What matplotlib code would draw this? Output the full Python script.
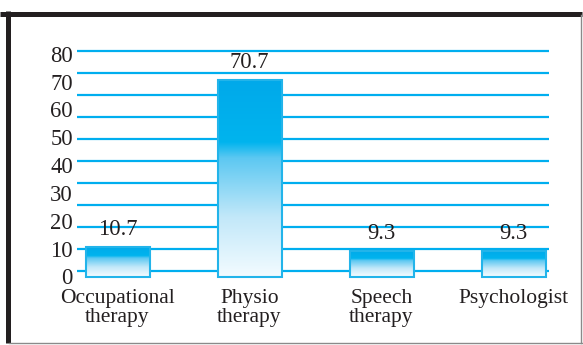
import numpy as np
import matplotlib
matplotlib.use("Agg")
import matplotlib.pyplot as plt
from matplotlib.colors import LinearSegmentedColormap
from matplotlib.lines import Line2D

categories = ["Occupational\ntherapy", "Physio\ntherapy", "Speech\ntherapy", "Psychologist"]
values = [10.7, 70.7, 9.3, 9.3]
value_labels = ["10.7", "70.7", "9.3", "9.3"]
yticks = [0, 10, 20, 30, 40, 50, 60, 70, 80]

W, H = 583, 345
DPI = 100
plt.rcParams['font.family'] = ['Liberation Serif', 'DejaVu Serif']
fig = plt.figure(figsize=(W / DPI, H / DPI), dpi=DPI)
fig.patch.set_facecolor("white")

CYAN = "#00aeef"
TEXT = "#231f20"
FS_NUM = 16.3
FS_CAT = 15.5

# axes placement in pixels
ax_left, ax_right = 77, 549
ax_top, ax_bot = 45, 283
pos = [ax_left / W, (H - ax_bot) / H, (ax_right - ax_left) / W, (ax_bot - ax_top) / H]

# grid layer (11 evenly spaced decorative lines)
axg = fig.add_axes(pos, zorder=0)
grid_bottom_px, grid_step_px = 271.0, 22.0
axg.set_ylim((grid_bottom_px - ax_bot) / grid_step_px, (grid_bottom_px - ax_top) / grid_step_px)
axg.set_xlim(0, 1)
for k in range(11):
    axg.axhline(k, color=CYAN, lw=1.6, zorder=0)
axg.axis("off")

# main layer
ax = fig.add_axes(pos, zorder=1)
ax.patch.set_visible(False)
px_per_unit = 2.784
zero_px = 276.5
ylim = ((zero_px - ax_bot) / px_per_unit, (zero_px - ax_top) / px_per_unit)
step = 132.0
c0 = 117.5
xlim = ((ax_left - c0) / step, (ax_right - c0) / step)

cmap = LinearSegmentedColormap.from_list(
    "bar", [(0.0, "#f2fbff"), (0.3, "#c2e8f9"), (0.6, "#5cc8f2"), (0.68, "#00b4ee"), (1.0, "#00a9ea")])
grad = np.linspace(0, 1, 256).reshape(-1, 1)

x = np.arange(len(categories))
bw = 64 / step
bars = ax.bar(x, values, width=bw, color="none", edgecolor="#22b4ea", linewidth=1.5, zorder=3)
for b in bars:
    x0, y0 = b.get_x(), b.get_y()
    w, h = b.get_width(), b.get_height()
    im = ax.imshow(grad, cmap=cmap, origin="lower", aspect="auto",
                   extent=[x0, x0 + w, y0, y0 + h], zorder=2, interpolation="bilinear")
    im.set_clip_path(b)
ax.set_xlim(*xlim)
ax.set_ylim(*ylim)

for xi, v, lab in zip(x, values, value_labels):
    ax.annotate(lab, (xi, v), xytext=(0, 5), textcoords="offset points",
                ha="center", va="bottom", fontsize=FS_NUM, color=TEXT, zorder=5)

ax.set_yticks(yticks)
ax.set_yticklabels([str(t) for t in yticks], fontsize=FS_NUM, color=TEXT)
ax.tick_params(axis="y", length=0, pad=3)
ax.set_xticks(x)
ax.set_xticklabels(categories, fontsize=FS_CAT, color=TEXT, linespacing=1.0)
ax.tick_params(axis="x", length=0, pad=4)
for s in ax.spines.values():
    s.set_visible(False)

# outer frame
fig.add_artist(Line2D([0, 581.5 / W], [1 - 13.5 / H, 1 - 13.5 / H], transform=fig.transFigure,
                      color="#231f20", lw=3.6, solid_capstyle="butt"))
fig.add_artist(Line2D([7.5 / W, 7.5 / W], [1 - 11 / H, 1 - 343 / H], transform=fig.transFigure,
                      color="#231f20", lw=3.6, solid_capstyle="butt"))
fig.add_artist(Line2D([581 / W, 581 / W], [1 - 15 / H, 1 - 343 / H], transform=fig.transFigure,
                      color="#8a8a8a", lw=1.0))
fig.add_artist(Line2D([9 / W, 581.5 / W], [1 - 342.5 / H, 1 - 342.5 / H], transform=fig.transFigure,
                      color="#8a8a8a", lw=1.0))

fig.savefig("out.png", dpi=DPI, facecolor="white")
